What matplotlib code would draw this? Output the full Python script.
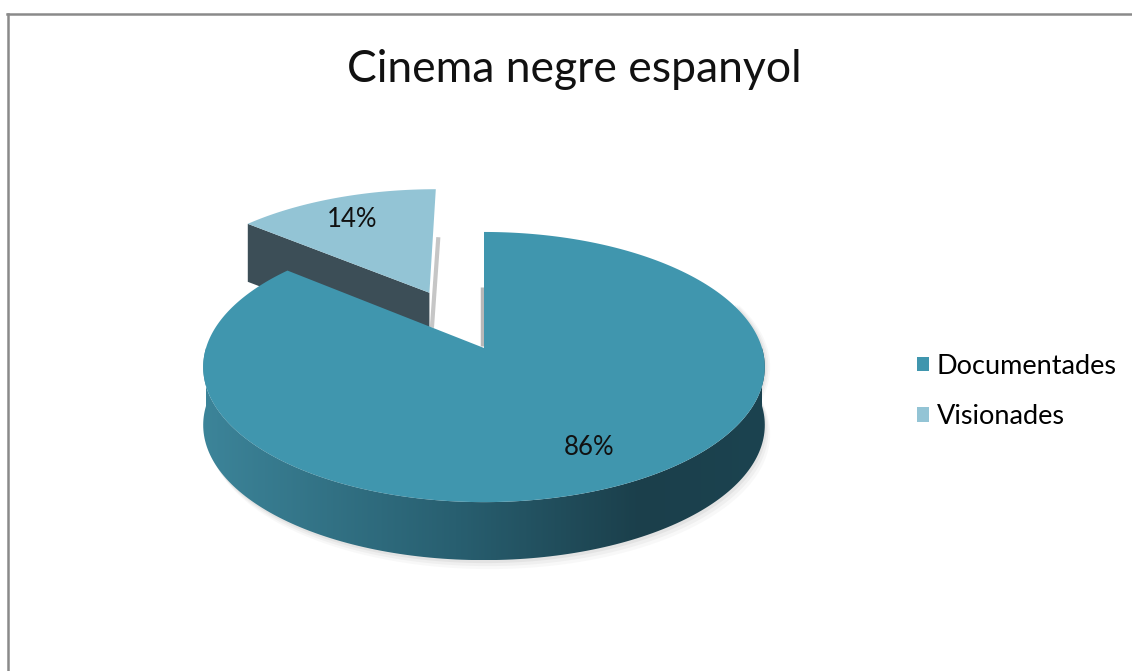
import numpy as np
import matplotlib
matplotlib.use("Agg")
import matplotlib.pyplot as plt
from matplotlib.patches import Polygon, Patch
from matplotlib.colors import LinearSegmentedColormap
from matplotlib.lines import Line2D

# ---- data ----
title = "Cinema negre espanyol"
categories = ["Documentades", "Visionades"]
values = [86, 14]
labels = ["86%", "14%"]
explode = [0.0, 0.49]

top_colors = ["#4096AE", "#93C4D5"]
cut_colors = ["#2D6A7C", "#3C4E57"]

# ---- geometry (pixel coords, y down) ----
W, H = 1132, 671
CX, CY = 484, 348      # pie vertex on screen
A, B = 278, 132.4      # semi axes
K = 0.141              # perspective
DEPTH = 58
START = 90.0

def proj(u, v, z=0.0):
    u = np.asarray(u, float); v = np.asarray(v, float)
    s = 1.0 / (1.0 + K * v)
    return CX + A * u * s, CY - B * v * s + z

fig = plt.figure(figsize=(W / 100, H / 100), dpi=100)
ax = fig.add_axes([0, 0, 1, 1])
ax.set_xlim(0, W); ax.set_ylim(H, 0); ax.axis("off")

fracs = np.array(values, float) / sum(values)
# clockwise from START
bounds = []
a0 = START
for f in fracs:
    a1 = a0 - 360 * f
    bounds.append((a0, a1))
    a0 = a1

def offset(i):
    a0, a1 = bounds[i]
    mid = np.deg2rad((a0 + a1) / 2)
    return explode[i] * np.cos(mid), explode[i] * np.sin(mid)

def edge(i, ang):
    ou, ov = offset(i)
    r = np.deg2rad(ang)
    return proj(ou + np.cos(r), ov + np.sin(r))

# ---- Visionades (exploded, behind) ----
i = 1
a0, a1 = bounds[i]
ou, ov = offset(i)
p1 = proj(ou, ov)
# radial cut face at a0 (faces the viewer)
p2 = edge(i, a0)
cut = [(p1[0], p1[1]), (p2[0], p2[1]), (p2[0], p2[1] + DEPTH), (p1[0], p1[1] + DEPTH)]
ax.add_patch(Polygon(cut, closed=True, fc=cut_colors[1], ec="none", zorder=2))
t = np.deg2rad(np.linspace(a0, a1, 80))
xs, ys = proj(ou + np.cos(t), ov + np.sin(t))
verts = [(p1[0], p1[1])] + list(zip(xs, ys))
ax.add_patch(Polygon(verts, closed=True, fc=top_colors[1], ec="none", zorder=3))
# soft shadow on the vertical edge at a1
pe = edge(i, a1)
ax.plot([pe[0] + 2.5, p1[0] + 2.5], [pe[1] + 48, p1[1] + 35], color="#a0a0a0", lw=3, alpha=0.6,
        zorder=2.5, solid_capstyle="butt")

# ---- Documentades (main) ----
i = 0
a0, a1 = bounds[i]
ou, ov = offset(i)
pc = proj(ou, ov)
# soft shadow
tf = np.deg2rad(np.linspace(-200, 20, 120))
for k, al in [(9, 0.05), (6, 0.07), (3, 0.1)]:
    sx, sy = proj(ou + np.cos(tf), ov + np.sin(tf), DEPTH)
    tx, ty = proj(ou + np.cos(tf), ov + np.sin(tf), 0)
    poly = list(zip(tx + k * 0.6, ty)) + list(zip((sx + k * 0.6)[::-1], (sy + k)[::-1]))
    ax.add_patch(Polygon(poly, closed=True, fc="#808080", ec="none", alpha=al, zorder=3.5))
# side wall (front arc)
tfront = np.deg2rad(np.linspace(-180, 0, 160))
tx, ty = proj(ou + np.cos(tfront), ov + np.sin(tfront), 0)
bx, by = proj(ou + np.cos(tfront), ov + np.sin(tfront), DEPTH)
side = list(zip(tx, ty)) + list(zip(bx[::-1], by[::-1]))
side_poly = Polygon(side, closed=True, fc="none", ec="none", zorder=4)
ax.add_patch(side_poly)
cmap = LinearSegmentedColormap.from_list(
    "side", [(0.0, "#3C8499"), (0.45, "#285F70"), (0.78, "#1B3F4B"), (1.0, "#1C4350")])
grad = np.linspace(0, 1, 400)[None, :]
im = ax.imshow(grad, cmap=cmap, extent=[tx.min(), tx.max(), by.max(), ty.min() - 5],
               aspect="auto", zorder=4, interpolation="bilinear")
im.set_clip_path(side_poly)
# top face
t = np.deg2rad(np.linspace(a0, a1, 300))
xs, ys = proj(ou + np.cos(t), ov + np.sin(t))
verts = [(pc[0], pc[1])] + list(zip(xs, ys))
ax.add_patch(Polygon(verts, closed=True, fc=top_colors[0], ec="none", zorder=5))
# soft shadow along the vertical edge at START
pe = edge(i, a0)
ax.plot([pe[0] - 2, pc[0] - 2], [pe[1] + 55, pc[1] - 2], color="#9a9a9a", lw=2.5, alpha=0.7,
        zorder=4.5, solid_capstyle="butt")

ax.set_xlim(0, W); ax.set_ylim(H, 0)

# ---- labels ----
for i, lab in enumerate(labels):
    a0, a1 = bounds[i]
    mid = np.deg2rad((a0 + a1) / 2)
    ou, ov = offset(i)
    lx, ly = proj(ou + 0.8 * np.cos(mid), ov + 0.75 * np.sin(mid))
    ax.text(lx, ly, lab, ha="center", va="center", fontsize=18.5, family="Lato",
            color="#111111", zorder=10)

# ---- title ----
fig.text(574 / W, 1 - 70 / H, title, ha="center", va="center", fontsize=32, family="Lato",
         color="#111111")

# ---- legend ----
handles = [Patch(fc=c, ec="none") for c in top_colors]
fig.legend(handles, categories, loc="upper left", bbox_to_anchor=(903 / W, 1 - 340 / H),
           frameon=False, prop={"family": "Lato", "size": 19.5}, handlelength=0.45,
           handleheight=0.45, handletextpad=0.3, labelspacing=0.95, borderpad=0)

# ---- frame ----
fig.add_artist(Line2D([7 / W, 1], [1 - 14 / H, 1 - 14 / H], color="#8a8a8a", lw=1.8))
fig.add_artist(Line2D([8 / W, 8 / W], [0, 1 - 14 / H], color="#8a8a8a", lw=1.8))

fig.savefig("out.png", dpi=100)
